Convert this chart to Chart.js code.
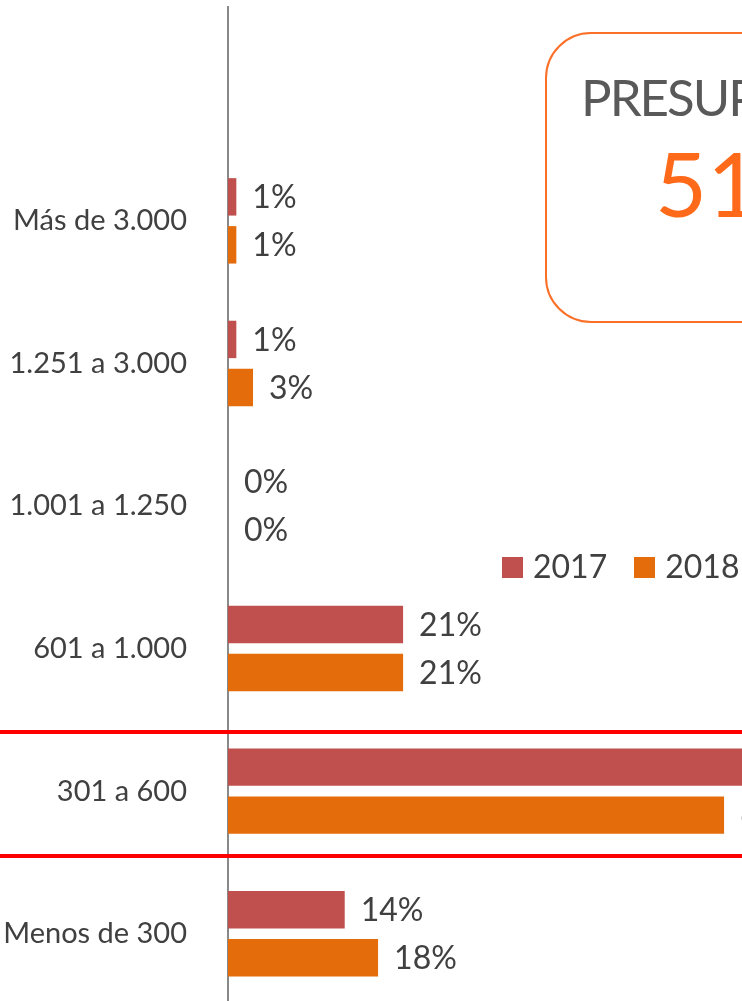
<!DOCTYPE html>
<html>
<head>
<meta charset="utf-8">
<script src="https://cdn.jsdelivr.net/npm/chart.js@4/dist/chart.umd.min.js"></script>
<style>
  html, body { margin: 0; padding: 0; background: #fff; }
  body { width: 742px; height: 1001px; overflow: hidden; position: relative; font-family: 'Lato', sans-serif; }
  #chartWrap { position: absolute; left: 0; top: 0; }
  .redLine { position: absolute; left: 0; width: 742px; height: 4px; background: #ff0000; }
  #box {
    position: absolute; left: 545px; top: 32px; width: 400px; height: 287px;
    border: 2px solid #fa7028; border-radius: 46px; background: #fff;
  }
  #boxTitle { position: absolute; left: 34px; top: 32px; font-size: 51px; letter-spacing: -2px; color: #595959; white-space: nowrap; }
  #boxValue { position: absolute; left: 108px; top: 94px; font-size: 90px; color: #ff6a1a; white-space: nowrap; }
  #legend { position: absolute; left: 502px; top: 546px; font-size: 32px; color: #404040; white-space: nowrap; }
  #legend span.sw { display: inline-block; width: 21px; height: 21px; vertical-align: middle; margin-right: 10px; position: relative; top: -2px; }
  #legend span.item { margin-right: 27px; }
</style>
</head>
<body>
<div id="chartWrap"><canvas id="budgetChart" width="900" height="1006"></canvas></div>
<div class="redLine" style="top:730px"></div>
<div class="redLine" style="top:854px"></div>
<div id="box">
  <div id="boxTitle">PRESUPUESTO</div>
  <div id="boxValue">51%</div>
</div>
<div id="legend">
  <span class="item"><span class="sw" style="background:#c0504d"></span>2017</span><span class="item"><span class="sw" style="background:#e46c0a"></span>2018</span>
</div>
<script>
// budget ranges, top to bottom
const categories = ['Más de 3.000', '1.251 a 3.000', '1.001 a 1.250', '601 a 1.000', '301 a 600', 'Menos de 300'];
const values2017 = [1, 1, 0, 21, 63, 14];
const values2018 = [1, 3, 0, 21, 59.5, 18];

// an empty slot on top keeps the spacing of the original plot area
const labels = [''].concat(categories);

// draws "x%" to the right of each bar
const barLabels = {
  id: 'barLabels',
  afterDatasetsDraw(chart) {
    const ctx = chart.ctx;
    ctx.save();
    ctx.font = '32px Lato';
    ctx.fillStyle = '#404040';
    ctx.textAlign = 'left';
    ctx.textBaseline = 'middle';
    chart.data.datasets.forEach((ds, i) => {
      chart.getDatasetMeta(i).data.forEach((bar, j) => {
        const v = ds.data[j];
        if (v === null) return;
        ctx.fillText(Math.round(v) + '%', bar.x + 16, bar.y + 1);
      });
    });
    ctx.restore();
  }
};

new Chart(document.getElementById('budgetChart'), {
  type: 'bar',
  data: {
    labels: labels,
    datasets: [
      { label: '2017', data: [null].concat(values2017), backgroundColor: '#c0504d' },
      { label: '2018', data: [null].concat(values2018), backgroundColor: '#e46c0a' }
    ]
  },
  options: {
    indexAxis: 'y',
    responsive: false,
    animation: false,
    devicePixelRatio: 1,
    categoryPercentage: 0.673,
    barPercentage: 0.78,
    layout: { padding: { top: 7, bottom: 1, left: 0, right: 5 } },
    plugins: {
      legend: { display: false },
      tooltip: { enabled: false }
    },
    scales: {
      x: { display: false, min: 0, max: 80 },
      y: {
        grid: { display: false },
        border: { display: true, color: '#898989', width: 2 },
        ticks: { color: '#404040', font: { family: 'Lato', size: 29 }, padding: 33 },
        afterFit: (scale) => {
          // fixed left edge of the plot, no extra room above/below
          scale.width = 228;
          scale.paddingTop = 0;
          scale.paddingBottom = 0;
        }
      }
    }
  },
  plugins: [barLabels]
});
</script>
</body>
</html>
